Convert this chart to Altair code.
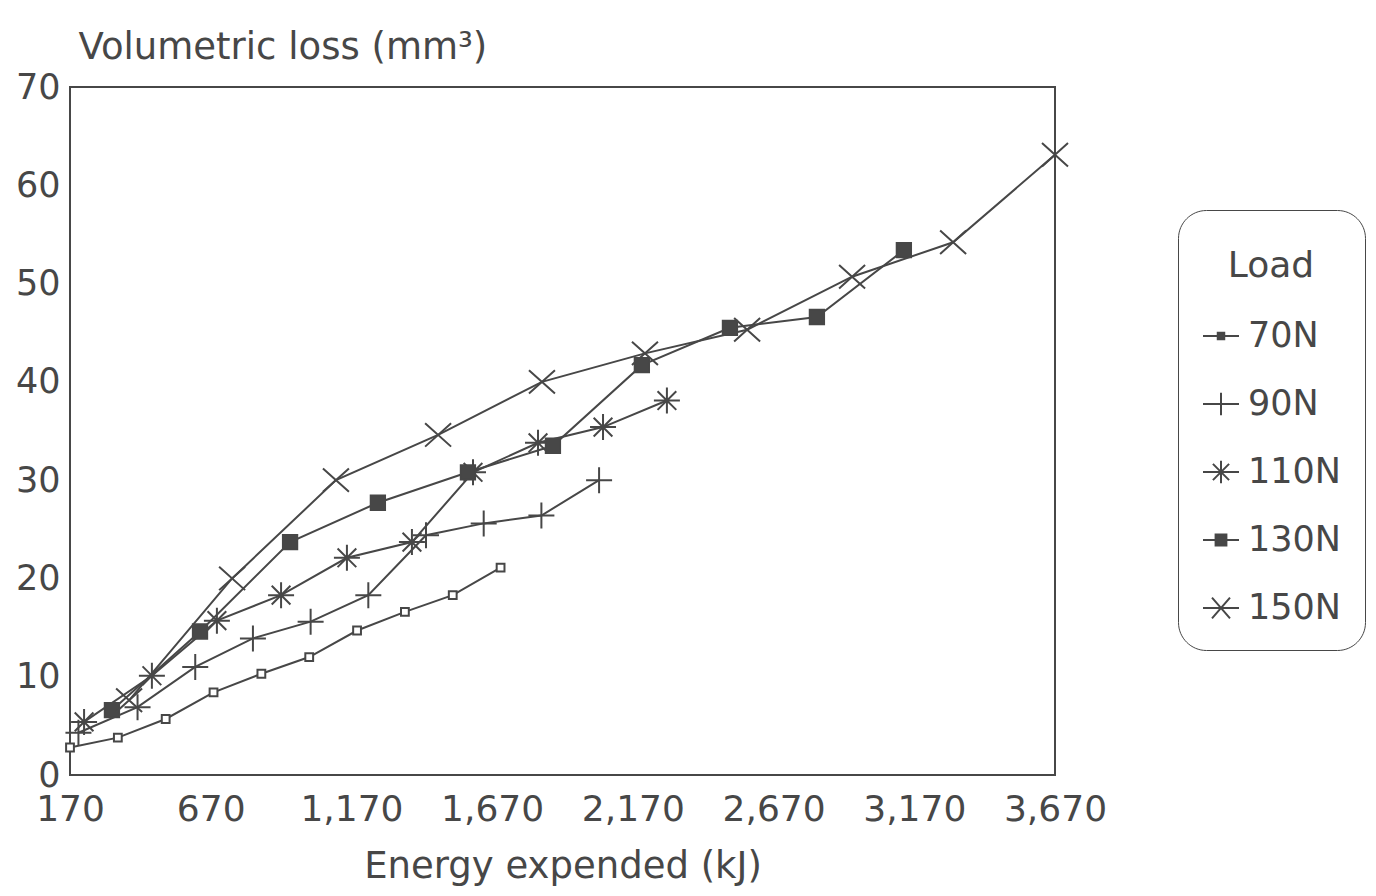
import altair as alt
import pandas as pd

# ---- data ----
loads = ["70N", "90N", "110N", "130N", "150N"]

energy_70 = [170, 340, 510, 680, 850, 1020, 1190, 1360, 1530, 1700]
loss_70 = [2.8, 3.8, 5.7, 8.4, 10.3, 12.0, 14.7, 16.6, 18.3, 21.1]

energy_90 = [200, 410, 615, 820, 1025, 1230, 1435, 1640, 1845, 2050]
loss_90 = [4.3, 6.9, 11.0, 13.9, 15.6, 18.3, 24.4, 25.6, 26.4, 30.0]

energy_110 = [220, 461, 692, 920, 1154, 1385, 1602, 1833, 2064, 2291]
loss_110 = [5.4, 10.1, 15.7, 18.3, 22.1, 23.7, 30.8, 33.8, 35.4, 38.1]

energy_130 = [319, 632, 952, 1264, 1584, 1886, 2202, 2515, 2824, 3133]
loss_130 = [6.6, 14.6, 23.7, 27.7, 30.8, 33.5, 41.7, 45.5, 46.6, 53.4]

energy_150 = [380, 746, 1115, 1478, 1847, 2213, 2576, 2949, 3308, 3670]
loss_150 = [7.6, 20.0, 30.0, 34.6, 40.0, 42.9, 45.3, 50.7, 54.2, 63.1]

x_ticks = [170, 670, 1170, 1670, 2170, 2670, 3170, 3670]
y_ticks = [0, 10, 20, 30, 40, 50, 60, 70]

rows = []
for load, ex, ly in zip(loads,
                        [energy_70, energy_90, energy_110, energy_130, energy_150],
                        [loss_70, loss_90, loss_110, loss_130, loss_150]):
    for e, l in zip(ex, ly):
        rows.append({"Load": load, "Energy": e, "Loss": l})
df = pd.DataFrame(rows)

INK = "#474747"
FONT = "DejaVu Sans"

marker_paths = [
    "M-0.3,-0.3H0.3V0.3H-0.3Z",
    "M-1,0H1M0,-1V1",
    "M-1,0H1M0,-1V1M-0.72,-0.72L0.72,0.72M-0.72,0.72L0.72,-0.72",
    "M-0.55,-0.55H0.55V0.55H-0.55Z",
    "M-1,-0.9L1,0.9M-1,0.9L1,-0.9",
]
marker_fills = ["white", "transparent", "transparent", INK, "transparent"]

legend_paths = [
    "M-1,0H1M-0.18,-0.18H0.18V0.18H-0.18Z",
    "M-1,0H1M0,-0.62V0.62",
    "M-1,0H1M0,-0.62V0.62M-0.45,-0.45L0.45,0.45M-0.45,0.45L0.45,-0.45",
    "M-1,0H1M-0.3,-0.3H0.3V0.3H-0.3Z",
    "M-1,0H1M-0.5,-0.58L0.5,0.58M-0.5,0.58L0.5,-0.58",
]

x = alt.X(
    "Energy:Q",
    scale=alt.Scale(domain=[170, 3670], nice=False, zero=False),
    axis=alt.Axis(values=x_ticks, format=",d", title="Energy expended (kJ)",
                  labelPadding=17, labelFlush=False, labelOverlap=False,
                  labelFontSize=36, titleFontSize=37,
                  titleY=102, titleBaseline="alphabetic"),
)
y = alt.Y(
    "Loss:Q",
    scale=alt.Scale(domain=[0, 70], nice=False),
    axis=alt.Axis(values=y_ticks, title="Volumetric loss (mm³)",
                  labelPadding=10, labelFontSize=35, titleFontSize=37,
                  titleAngle=0, titleX=8, titleY=-29, titleAlign="left",
                  titleBaseline="alphabetic"),
)

lines = alt.Chart(df).mark_line(color=INK, strokeWidth=2).encode(
    x=x, y=y, detail="Load:N"
)

points = alt.Chart(df).mark_point(
    filled=False, size=676, strokeWidth=2, stroke=INK, opacity=1
).encode(
    x=x, y=y,
    shape=alt.Shape("Load:N", scale=alt.Scale(domain=loads, range=marker_paths), legend=None),
    fill=alt.Fill("Load:N", scale=alt.Scale(domain=loads, range=marker_fills), legend=None),
)

legend_layer = alt.Chart(df).mark_point(
    filled=False, size=1296, opacity=0, stroke=INK, fill=INK, strokeWidth=2
).encode(
    x=x, y=y,
    shape=alt.Shape(
        "Load:N",
        scale=alt.Scale(domain=loads, range=legend_paths),
        legend=alt.Legend(
            title=["", "Load"], titleLineHeight=15,
            orient="none", legendX=1108, legendY=123,
            padding=24, cornerRadius=28, strokeColor=INK, fillColor="white",
            titleFont=FONT, titleFontSize=36, titleFontWeight="normal",
            titleColor=INK, titleAnchor="middle", titlePadding=32,
            labelFont=FONT, labelFontSize=35, labelColor=INK, labelOffset=8,
            symbolSize=1296, symbolStrokeWidth=2, symbolOpacity=1,
            rowPadding=31,
        ),
    ),
)

chart = (
    alt.layer(lines, points, legend_layer)
    .resolve_scale(shape="independent", fill="independent")
    .properties(
        width=985, height=688,
        padding={"left": 62, "top": 79, "right": 313, "bottom": 113},
        autosize=alt.AutoSizeParams(type="none"),
    )
    .configure_view(stroke=INK, strokeWidth=2)
    .configure_axis(domain=False, ticks=False, grid=False,
                    labelFont=FONT, labelColor=INK,
                    titleFont=FONT, titleColor=INK, titleFontWeight="normal")
)

chart.save("out.html", embed_options={"renderer": "svg", "actions": False})
